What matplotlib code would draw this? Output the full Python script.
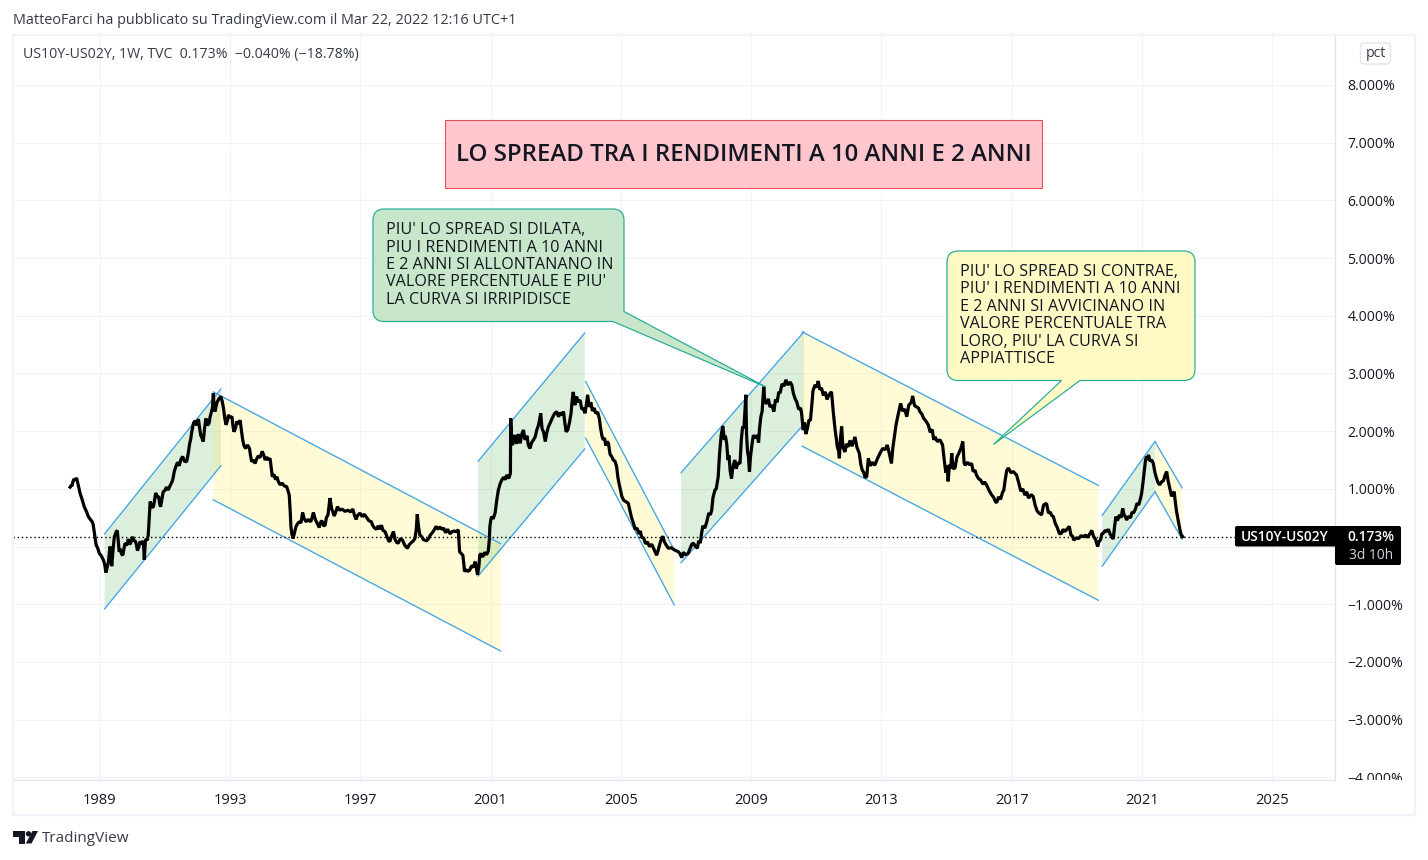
import matplotlib
matplotlib.use('Agg')
import matplotlib.pyplot as plt
from matplotlib.patches import PathPatch, Polygon, FancyBboxPatch, Rectangle, Circle
from matplotlib.path import Path
from matplotlib.transforms import Affine2D, Bbox

# US10Y-US02Y spread in percent, (date, value) by stretch of years
spread_1988 = [
    (1988.09, 1.03), (1988.12, 1.06), (1988.15, 1.05), (1988.18, 1.13), (1988.21, 1.17), (1988.25, 1.15), (1988.29, 1.19),
    (1988.34, 1.07), (1988.37, 1.00), (1988.40, 0.92), (1988.44, 0.85), (1988.48, 0.78), (1988.52, 0.70), (1988.55, 0.66),
    (1988.60, 0.60), (1988.65, 0.52), (1988.70, 0.48), (1988.77, 0.43), (1988.80, 0.38), (1988.84, 0.23), (1988.87, 0.12),
    (1988.89, 0.03), (1988.94, -0.03), (1988.99, -0.12), (1989.05, -0.16), (1989.11, -0.23), (1989.15, -0.30), (1989.19, -0.45),
    (1989.23, -0.36), (1989.27, -0.26), (1989.30, -0.08), (1989.32, 0.00), (1989.35, -0.22), (1989.37, -0.34), (1989.41, -0.05),
    (1989.45, 0.17), (1989.50, 0.25), (1989.54, 0.28), (1989.57, 0.10), (1989.60, -0.09), (1989.63, -0.04), (1989.67, -0.13),
    (1989.71, -0.15), (1989.75, -0.02), (1989.78, 0.06), (1989.83, 0.02), (1989.88, 0.13), (1989.92, 0.04), (1989.95, 0.06),
    (1989.98, 0.12), (1990.01, 0.17), (1990.05, 0.09), (1990.08, 0.11), (1990.12, 0.05), (1990.16, -0.07), (1990.20, -0.01),
    (1990.24, 0.09), (1990.29, 0.04), (1990.34, 0.10), (1990.37, -0.23), (1990.40, 0.08), (1990.42, 0.13), (1990.46, 0.11),
    (1990.49, 0.20), (1990.52, 0.50), (1990.55, 0.78), (1990.60, 0.68), (1990.65, 0.69), (1990.69, 0.82), (1990.72, 0.93),
    (1990.77, 0.86), (1990.81, 0.87), (1990.84, 0.74), (1990.87, 0.69), (1990.91, 0.82), (1990.95, 0.95), (1991.00, 0.97),
    (1991.05, 1.03), (1991.10, 0.98), (1991.16, 1.05), (1991.20, 1.10), (1991.24, 1.15), (1991.29, 1.30), (1991.34, 1.39),
    (1991.39, 1.46), (1991.44, 1.40), (1991.50, 1.52), (1991.55, 1.56), (1991.60, 1.48), (1991.67, 1.47), (1991.72, 1.62),
    (1991.76, 1.78), (1991.79, 1.85), (1991.83, 2.00), (1991.88, 2.14), (1991.93, 2.18), (1991.98, 2.10), (1992.03, 2.21),
    (1992.07, 2.05), (1992.10, 1.93), (1992.14, 1.88), (1992.18, 1.82), (1992.22, 2.05), (1992.26, 2.22), (1992.31, 2.10),
    (1992.36, 2.14), (1992.39, 2.25), (1992.42, 2.31), (1992.46, 2.40), (1992.49, 2.66), (1992.51, 2.42), (1992.54, 2.34),
    (1992.58, 2.45), (1992.61, 2.51), (1992.66, 2.56), (1992.72, 2.60), (1992.76, 2.52), (1992.80, 2.40), (1992.84, 2.22),
    (1992.88, 2.11), (1992.92, 2.18), (1992.95, 2.28), (1993.00, 2.24), (1993.06, 2.25), (1993.09, 2.10), (1993.12, 1.99),
    (1993.17, 2.05), (1993.21, 2.17), (1993.26, 2.12), (1993.31, 2.19), (1993.35, 2.02), (1993.39, 1.85), (1993.43, 1.75),
    (1993.48, 1.70), (1993.54, 1.76), (1993.60, 1.70), (1993.63, 1.58), (1993.67, 1.47), (1993.72, 1.50), (1993.77, 1.44),
    (1993.82, 1.52), (1993.87, 1.57), (1993.92, 1.54), (1993.99, 1.65), (1994.04, 1.58), (1994.08, 1.50), (1994.13, 1.55),
    (1994.18, 1.50), (1994.23, 1.53), (1994.27, 1.35), (1994.30, 1.21), (1994.35, 1.25), (1994.40, 1.16), (1994.44, 1.21),
    (1994.49, 1.12), (1994.54, 1.07), (1994.60, 1.10), (1994.67, 1.05), (1994.74, 1.04), (1994.78, 0.97), (1994.82, 0.89),
]
spread_1995 = [
    (1994.85, 0.60), (1994.87, 0.35), (1994.90, 0.22), (1994.94, 0.14), (1994.98, 0.24), (1995.03, 0.35), (1995.08, 0.40),
    (1995.13, 0.43), (1995.18, 0.41), (1995.23, 0.59), (1995.28, 0.48), (1995.34, 0.43), (1995.40, 0.47), (1995.48, 0.43),
    (1995.52, 0.50), (1995.56, 0.59), (1995.62, 0.47), (1995.68, 0.40), (1995.74, 0.33), (1995.78, 0.42), (1995.82, 0.45),
    (1995.87, 0.36), (1995.92, 0.37), (1995.96, 0.50), (1996.01, 0.55), (1996.07, 0.84), (1996.12, 0.66), (1996.16, 0.60),
    (1996.20, 0.53), (1996.25, 0.60), (1996.30, 0.69), (1996.37, 0.63), (1996.44, 0.65), (1996.53, 0.61), (1996.62, 0.63),
    (1996.70, 0.60), (1996.77, 0.65), (1996.82, 0.55), (1996.87, 0.47), (1996.92, 0.54), (1996.99, 0.58), (1997.06, 0.52),
    (1997.12, 0.56), (1997.19, 0.51), (1997.26, 0.45), (1997.34, 0.43), (1997.38, 0.37), (1997.44, 0.32), (1997.50, 0.30),
    (1997.55, 0.36), (1997.60, 0.30), (1997.65, 0.37), (1997.70, 0.28), (1997.76, 0.26), (1997.82, 0.17), (1997.87, 0.10),
    (1997.91, 0.09), (1997.96, 0.18), (1998.02, 0.26), (1998.07, 0.12), (1998.12, 0.07), (1998.17, 0.06), (1998.23, 0.14),
    (1998.30, 0.11), (1998.36, 0.03), (1998.40, 0.00), (1998.45, -0.03), (1998.50, 0.03), (1998.55, 0.06), (1998.63, 0.10),
    (1998.68, 0.14), (1998.72, 0.30), (1998.75, 0.56), (1998.79, 0.34), (1998.83, 0.20), (1998.89, 0.17), (1998.94, 0.12),
    (1999.04, 0.10), (1999.10, 0.14), (1999.15, 0.20), (1999.20, 0.23), (1999.26, 0.28), (1999.33, 0.35), (1999.38, 0.30),
    (1999.44, 0.34), (1999.50, 0.30), (1999.56, 0.32), (1999.62, 0.24), (1999.68, 0.30), (1999.76, 0.22), (1999.82, 0.26),
    (1999.88, 0.27), (1999.94, 0.26), (2000.01, 0.29), (2000.03, 0.10), (2000.05, -0.09), (2000.10, -0.12), (2000.15, -0.15),
    (2000.18, -0.30), (2000.20, -0.43), (2000.26, -0.40), (2000.30, -0.43), (2000.36, -0.41), (2000.42, -0.33), (2000.48, -0.36),
    (2000.53, -0.26), (2000.57, -0.38), (2000.60, -0.49), (2000.64, -0.35), (2000.67, -0.15), (2000.70, -0.12), (2000.76, -0.18),
    (2000.82, -0.10), (2000.88, -0.14), (2000.93, -0.08), (2000.96, 0.10), (2000.98, 0.35), (2001.01, 0.47), (2001.04, 0.52),
]
spread_2001 = [
    (2001.08, 0.48), (2001.14, 0.58), (2001.19, 0.80), (2001.24, 0.98), (2001.29, 1.08), (2001.34, 1.15), (2001.40, 1.20),
    (2001.45, 1.16), (2001.50, 1.24), (2001.56, 1.18), (2001.61, 1.27), (2001.62, 2.22), (2001.65, 1.80), (2001.68, 1.76),
    (2001.72, 1.90), (2001.75, 1.93), (2001.80, 1.78), (2001.85, 1.95), (2001.91, 1.79), (2001.96, 1.95), (2002.01, 2.02),
    (2002.06, 1.85), (2002.12, 1.92), (2002.16, 1.76), (2002.21, 1.70), (2002.26, 1.80), (2002.32, 1.85), (2002.37, 1.90),
    (2002.42, 2.02), (2002.48, 2.12), (2002.54, 2.31), (2002.58, 2.05), (2002.63, 1.98), (2002.68, 1.82), (2002.73, 1.98),
    (2002.78, 2.08), (2002.83, 2.14), (2002.89, 2.22), (2002.96, 2.30), (2003.03, 2.34), (2003.09, 2.25), (2003.14, 2.32),
    (2003.20, 2.28), (2003.24, 2.34), (2003.28, 2.15), (2003.32, 1.99), (2003.37, 2.02), (2003.42, 2.14), (2003.47, 2.30),
    (2003.51, 2.55), (2003.54, 2.68), (2003.59, 2.45), (2003.64, 2.60), (2003.70, 2.50), (2003.75, 2.54), (2003.80, 2.38),
    (2003.85, 2.40), (2003.90, 2.31), (2003.94, 2.45), (2003.98, 2.63), (2004.03, 2.42), (2004.08, 2.50), (2004.13, 2.35),
    (2004.18, 2.40), (2004.23, 2.31), (2004.29, 2.33), (2004.34, 2.22), (2004.38, 2.05), (2004.42, 1.92), (2004.46, 1.85),
    (2004.50, 1.88), (2004.54, 1.75), (2004.58, 1.82), (2004.62, 1.79), (2004.67, 1.60), (2004.72, 1.56), (2004.77, 1.50),
    (2004.82, 1.48), (2004.87, 1.39), (2004.91, 1.20), (2004.95, 1.08), (2004.99, 0.98), (2005.03, 0.87), (2005.09, 0.80),
    (2005.15, 0.78), (2005.23, 0.75), (2005.28, 0.62), (2005.33, 0.50), (2005.39, 0.40), (2005.44, 0.30), (2005.50, 0.32),
    (2005.55, 0.22), (2005.60, 0.27), (2005.64, 0.16), (2005.70, 0.15), (2005.76, 0.05), (2005.82, 0.08), (2005.88, 0.00),
    (2005.95, 0.04), (2006.02, -0.05), (2006.10, -0.15), (2006.14, -0.08), (2006.20, 0.05), (2006.24, 0.12), (2006.29, 0.18),
    (2006.34, 0.08), (2006.40, 0.02), (2006.46, -0.03), (2006.55, -0.02), (2006.65, -0.06), (2006.77, -0.09), (2006.82, -0.13),
    (2006.87, -0.19), (2006.92, -0.10), (2006.98, -0.14), (2007.07, -0.12), (2007.12, -0.04), (2007.18, 0.04), (2007.23, 0.06),
    (2007.28, 0.01), (2007.35, -0.03), (2007.39, 0.10), (2007.44, 0.06), (2007.48, 0.23), (2007.52, 0.36), (2007.58, 0.32),
    (2007.64, 0.43), (2007.70, 0.58), (2007.75, 0.55), (2007.79, 0.63), (2007.83, 0.85), (2007.89, 0.98), (2007.93, 1.00),
    (2007.99, 1.21), (2008.03, 1.60), (2008.08, 1.92), (2008.13, 2.09), (2008.18, 1.85), (2008.21, 1.92), (2008.25, 1.79),
    (2008.29, 1.50), (2008.32, 1.58), (2008.36, 1.30), (2008.40, 1.18), (2008.44, 1.38), (2008.50, 1.50), (2008.54, 1.35),
    (2008.60, 1.45), (2008.66, 1.44), (2008.70, 1.85), (2008.74, 2.08), (2008.78, 2.05), (2008.81, 2.35), (2008.84, 2.63),
    (2008.86, 1.95), (2008.89, 1.65), (2008.92, 1.55), (2008.95, 1.30), (2008.98, 1.55), (2009.03, 1.78), (2009.07, 1.93),
    (2009.13, 1.88), (2009.19, 1.93), (2009.23, 1.80), (2009.26, 2.05), (2009.30, 2.25), (2009.34, 2.35), (2009.39, 2.77),
    (2009.42, 2.50), (2009.48, 2.48), (2009.53, 2.56), (2009.58, 2.42), (2009.64, 2.45), (2009.70, 2.34), (2009.75, 2.55),
    (2009.80, 2.50), (2009.85, 2.68), (2009.89, 2.66), (2009.95, 2.82), (2010.01, 2.78), (2010.07, 2.89), (2010.13, 2.80),
    (2010.20, 2.85), (2010.25, 2.80), (2010.30, 2.65), (2010.36, 2.55), (2010.40, 2.51), (2010.46, 2.38), (2010.52, 2.40),
]
spread_2010 = [
    (2010.55, 2.31), (2010.60, 2.02), (2010.64, 2.15), (2010.68, 1.95), (2010.73, 2.05), (2010.78, 2.20), (2010.82, 2.18),
    (2010.86, 2.42), (2010.90, 2.70), (2010.96, 2.80), (2011.02, 2.76), (2011.06, 2.87), (2011.11, 2.72), (2011.16, 2.75),
    (2011.22, 2.62), (2011.28, 2.68), (2011.33, 2.55), (2011.37, 2.60), (2011.43, 2.66), (2011.47, 2.68), (2011.52, 2.35),
    (2011.55, 2.19), (2011.58, 2.02), (2011.61, 1.90), (2011.65, 1.72), (2011.69, 1.65), (2011.71, 1.53), (2011.74, 1.85),
    (2011.78, 2.08), (2011.82, 1.72), (2011.88, 1.64), (2011.93, 1.78), (2011.98, 1.73), (2012.04, 1.84), (2012.10, 1.74),
    (2012.19, 1.90), (2012.25, 1.72), (2012.32, 1.62), (2012.37, 1.42), (2012.41, 1.33), (2012.46, 1.28), (2012.50, 1.20),
    (2012.55, 1.21), (2012.60, 1.53), (2012.66, 1.40), (2012.72, 1.46), (2012.80, 1.41), (2012.86, 1.50), (2012.96, 1.62),
    (2013.04, 1.70), (2013.12, 1.68), (2013.18, 1.76), (2013.24, 1.62), (2013.31, 1.44), (2013.35, 1.70), (2013.41, 1.95),
    (2013.45, 2.11), (2013.52, 2.30), (2013.59, 2.48), (2013.65, 2.35), (2013.72, 2.38), (2013.78, 2.25), (2013.84, 2.45),
    (2013.92, 2.50), (2013.96, 2.61), (2014.02, 2.44), (2014.08, 2.42), (2014.14, 2.40), (2014.18, 2.34), (2014.24, 2.30),
    (2014.30, 2.22), (2014.36, 2.18), (2014.44, 2.11), (2014.50, 1.98), (2014.56, 2.03), (2014.61, 1.85), (2014.65, 1.90),
    (2014.72, 1.82), (2014.80, 1.85), (2014.88, 1.76), (2014.93, 1.50), (2014.98, 1.28), (2015.02, 1.40), (2015.05, 1.13),
    (2015.09, 1.42), (2015.13, 1.35), (2015.16, 1.62), (2015.20, 1.35), (2015.26, 1.36), (2015.32, 1.55), (2015.38, 1.62),
    (2015.44, 1.70), (2015.50, 1.82), (2015.54, 1.45), (2015.57, 1.41), (2015.64, 1.46), (2015.70, 1.42), (2015.77, 1.44),
    (2015.82, 1.30), (2015.88, 1.32), (2015.92, 1.24), (2015.98, 1.18), (2016.05, 1.15), (2016.12, 1.08), (2016.17, 1.12),
    (2016.23, 1.07), (2016.30, 0.98), (2016.38, 0.90), (2016.45, 0.85), (2016.50, 0.78), (2016.54, 0.76), (2016.60, 0.86),
    (2016.66, 0.82), (2016.72, 0.94), (2016.76, 0.98), (2016.80, 1.15), (2016.85, 1.32), (2016.90, 1.36), (2016.98, 1.28),
    (2017.05, 1.30), (2017.15, 1.24), (2017.22, 1.10), (2017.28, 0.96), (2017.34, 1.00), (2017.41, 0.89), (2017.46, 0.95),
    (2017.52, 0.84), (2017.60, 0.90), (2017.66, 0.87), (2017.72, 0.72), (2017.78, 0.62), (2017.84, 0.58), (2017.92, 0.55),
    (2017.98, 0.72), (2018.07, 0.75), (2018.13, 0.58), (2018.18, 0.60), (2018.23, 0.54), (2018.28, 0.52), (2018.34, 0.40),
    (2018.40, 0.33), (2018.47, 0.22), (2018.53, 0.23), (2018.58, 0.30), (2018.63, 0.26), (2018.70, 0.30), (2018.77, 0.35),
    (2018.82, 0.20), (2018.87, 0.18), (2018.91, 0.11), (2018.98, 0.15), (2019.06, 0.14), (2019.13, 0.19), (2019.20, 0.17),
    (2019.27, 0.20), (2019.33, 0.16), (2019.40, 0.22), (2019.46, 0.28), (2019.51, 0.18), (2019.58, 0.12), (2019.64, 0.00),
]
spread_2019 = [
    (2019.68, 0.08), (2019.73, 0.12), (2019.77, 0.22), (2019.81, 0.23), (2019.87, 0.28), (2019.92, 0.26), (2019.97, 0.30),
    (2020.02, 0.22), (2020.07, 0.18), (2020.12, 0.13), (2020.16, 0.35), (2020.20, 0.52), (2020.25, 0.45), (2020.31, 0.55),
    (2020.36, 0.50), (2020.41, 0.66), (2020.45, 0.55), (2020.49, 0.52), (2020.53, 0.46), (2020.58, 0.52), (2020.65, 0.50),
    (2020.70, 0.60), (2020.74, 0.58), (2020.80, 0.65), (2020.85, 0.75), (2020.90, 0.72), (2020.95, 0.82), (2020.99, 0.92),
    (2021.03, 1.10), (2021.07, 1.30), (2021.11, 1.50), (2021.14, 1.56), (2021.17, 1.50), (2021.20, 1.59), (2021.25, 1.48),
    (2021.30, 1.50), (2021.35, 1.44), (2021.40, 1.28), (2021.45, 1.18), (2021.50, 1.10), (2021.55, 1.07), (2021.60, 1.12),
    (2021.66, 1.14), (2021.72, 1.25), (2021.76, 1.30), (2021.80, 1.15), (2021.84, 1.05), (2021.88, 0.95), (2021.91, 0.87),
    (2021.95, 0.92), (2021.99, 0.95), (2022.02, 0.80), (2022.06, 0.62), (2022.10, 0.50), (2022.13, 0.40), (2022.17, 0.28),
    (2022.21, 0.20), (2022.25, 0.173),
]

# hand drawn parallel channels: start/end date and the two rails at each end
channel_kinds = ['up', 'down', 'up', 'down', 'up', 'down', 'up', 'down']
channel_x0 = [1989.15, 1992.49, 2000.62, 2003.92, 2006.85, 2010.57, 2019.78, 2021.40]
channel_x1 = [1992.72, 2001.31, 2003.89, 2006.64, 2010.62, 2019.66, 2021.40, 2022.23]
upper_y0 = [0.22, 2.68, 1.48, 2.86, 1.28, 3.72, 0.54, 1.82]
lower_y0 = [-1.08, 0.81, -0.51, 1.88, -0.28, 1.74, -0.34, 0.95]
upper_y1 = [2.73, 0.05, 3.70, -0.06, 3.72, 1.06, 1.82, 1.02]
lower_y1 = [1.40, -1.81, 1.69, -1.01, 2.12, -0.93, 0.95, 0.13]

price_ticks = [-4, -3, -2, -1, 0, 1, 2, 3, 4, 5, 6, 7, 8]
year_ticks = [1989, 1993, 1997, 2001, 2005, 2009, 2013, 2017, 2021, 2025]
last_value = 0.173

title_text = 'LO SPREAD TRA I RENDIMENTI A 10 ANNI E 2 ANNI'
green_note = ["PIU' LO SPREAD SI DILATA,", "PIU I RENDIMENTI A 10 ANNI", "E 2 ANNI SI ALLONTANANO IN",
              "VALORE PERCENTUALE E PIU'", "LA CURVA SI IRRIPIDISCE"]
yellow_note = ["PIU' LO SPREAD SI CONTRAE,", "PIU' I RENDIMENTI A 10 ANNI", "E 2 ANNI SI AVVICINANO IN",
               "VALORE PERCENTUALE TRA", "LORO, PIU' LA CURVA SI", "APPIATTISCE"]

W, H = 1428, 860
INK = '#131722'
GRID = '#f0f3fa'
BORDER = '#e0e3eb'
plt.rcParams['font.family'] = ['Open Sans', 'DejaVu Sans']

weekly = spread_1988 + spread_1995 + spread_2001 + spread_2010 + spread_2019
years = [p[0] for p in weekly]
spread = [p[1] for p in weekly]

fig = plt.figure(figsize=(W / 100, H / 100), dpi=100, facecolor='white')
# everything outside the axes is placed in pixels from the top left corner
px = Affine2D().scale(1, -1).translate(0, H)

L, R, T, B = 13, 1335, 35, 780
ax = fig.add_axes([L / W, 1 - B / H, (R - L) / W, (B - T) / H])
ax.set_xlim(1986.338, 2026.928)
ax.set_ylim(-4.045, 8.865)

ax.set_xticks(year_ticks)
ax.set_xticklabels([str(y) for y in year_ticks])
ax.set_yticks(price_ticks)
ax.yaxis.tick_right()
# the zero label sits behind the last value tag
ax.set_yticklabels(['' if v == 0 else f'{v:.3f}%'.replace('-', '\u2212') for v in price_ticks])
ax.tick_params(axis='both', length=0, labelsize=10.1, labelcolor=INK)
ax.tick_params(axis='x', pad=9, labelsize=10.6)
ax.tick_params(axis='y', pad=9)
for lab in ax.get_xticklabels():
    lab.set_fontweight('medium')
ax.grid(True, color=GRID, lw=0.8)
ax.set_axisbelow(True)
for name, sp in ax.spines.items():
    sp.set_color(BORDER)
    sp.set_linewidth(0.9)
ax.spines['top'].set_visible(False)
ax.spines['left'].set_visible(False)

# the lowest price label gets cut by the time scale
for lab in ax.get_yticklabels():
    lab.set_clip_box(Bbox([[0, H - B], [W, H]]))
    lab.set_clip_on(True)

# channels
fills = {'up': (76 / 255, 175 / 255, 80 / 255, 0.2), 'down': (255 / 255, 235 / 255, 59 / 255, 0.2)}
for kind, x0, x1, u0, l0, u1, l1 in zip(channel_kinds, channel_x0, channel_x1, upper_y0, lower_y0, upper_y1, lower_y1):
    ax.add_patch(Polygon([(x0, u0), (x1, u1), (x1, l1), (x0, l0)], closed=True, fc=fills[kind], ec='none', zorder=2))
    ax.plot([x0, x1], [u0, u1], color='#42a5e5', lw=0.95, zorder=3)
    ax.plot([x0, x1], [l0, l1], color='#42a5e5', lw=0.95, zorder=3)

ax.axhline(last_value, color='black', lw=1, ls=(0, (1, 2)), zorder=4)
ax.plot(years, spread, color='black', lw=2.3, solid_joinstyle='bevel', zorder=5)

# outer frame of the chart
fig.add_artist(Rectangle((13, 35), 1402, 780, transform=px, fc='none', ec=GRID, lw=1.6))


def green_bubble():
    x0, y0, x1, y1, r = 373, 209, 624, 321.5, 11
    verts = [(x0 + r, y0), (x1 - r, y0), (x1, y0), (x1, y0 + r), (x1, 311.5), (766, 387), (613, y1),
             (x0 + r, y1), (x0, y1), (x0, y1 - r), (x0, y0 + r), (x0, y0), (x0 + r, y0)]
    codes = [Path.MOVETO, Path.LINETO, Path.CURVE3, Path.CURVE3, Path.LINETO, Path.LINETO, Path.LINETO,
             Path.LINETO, Path.CURVE3, Path.CURVE3, Path.LINETO, Path.CURVE3, Path.CURVE3]
    return Path(verts, codes)


def yellow_bubble():
    x0, y0, x1, y1, r = 947, 251, 1195, 380.5, 11
    verts = [(x0 + r, y0), (x1 - r, y0), (x1, y0), (x1, y0 + r), (x1, y1 - r), (x1, y1), (x1 - r, y1),
             (1080, y1), (993.5, 444.5), (1061.5, y1),
             (x0 + r, y1), (x0, y1), (x0, y1 - r), (x0, y0 + r), (x0, y0), (x0 + r, y0)]
    codes = [Path.MOVETO, Path.LINETO, Path.CURVE3, Path.CURVE3, Path.LINETO, Path.CURVE3, Path.CURVE3,
             Path.LINETO, Path.LINETO, Path.LINETO,
             Path.LINETO, Path.CURVE3, Path.CURVE3, Path.LINETO, Path.CURVE3, Path.CURVE3]
    return Path(verts, codes)


fig.add_artist(PathPatch(green_bubble(), transform=px, fc='#c8e6c9', ec='#22ab94', lw=0.85, zorder=6))
fig.add_artist(PathPatch(yellow_bubble(), transform=px, fc='#fff9c4', ec='#22ab94', lw=0.85, zorder=6))

for i, line in enumerate(green_note):
    fig.text(386, 230 + i * 17.5, line, transform=px, fontsize=11.65, color=INK, va='center', ha='left', zorder=7)
for i, line in enumerate(yellow_note):
    fig.text(960, 272 + i * 17.45, line, transform=px, fontsize=11.65, color=INK, va='center', ha='left', zorder=7)

# title box
fig.add_artist(Rectangle((445, 120), 597, 67.5, transform=px, fc='#ffc6ce', ec='#e8505b', lw=0.8, zorder=6))
fig.text(743.5, 155, title_text, transform=px, fontsize=17.3, fontweight='semibold', color=INK,
         va='center', ha='center', zorder=7)

# header and legend line
fig.text(13, 20.5, 'MatteoFarci ha pubblicato su TradingView.com il Mar 22, 2022 12:16 UTC+1', transform=px,
         fontsize=10.4, color='#363a45', va='center')
fig.text(23, 54.5, 'US10Y-US02Y, 1W, TVC  0.173%  \u22120.040% (\u221218.78%)', transform=px,
         fontsize=10.15, color='#363a45', va='center', zorder=7)

# pct button
fig.add_artist(FancyBboxPatch((1360.5, 43), 30, 21, boxstyle='round,pad=0,rounding_size=4', transform=px,
                              fc='white', ec=BORDER, lw=0.9, zorder=6))
fig.text(1375.5, 53.5, 'pct', transform=px, fontsize=10.1, color='#363a45', va='center', ha='center', zorder=7)

# last value tag
fig.add_artist(FancyBboxPatch((1235, 526), 166, 20.5, boxstyle='round,pad=0,rounding_size=2', transform=px,
                              fc='black', ec='none', zorder=6))
fig.add_artist(FancyBboxPatch((1335, 540), 66, 25, boxstyle='round,pad=0,rounding_size=2', transform=px,
                              fc='black', ec='none', zorder=6))
fig.text(1241, 537, 'US10Y-US02Y', transform=px, fontsize=9.9, fontweight='semibold', color='white', va='center', zorder=7)
fig.text(1394, 537, f'{last_value:.3f}%', transform=px, fontsize=9.9, fontweight='semibold', color='white', va='center', ha='right', zorder=7)
fig.text(1393, 555.5, '3d 10h', transform=px, fontsize=9.9, color='#d1d4dc', va='center', ha='right', zorder=7)

# TradingView mark and name
logo = '#131722'
fig.add_artist(Polygon([(13, 831), (25, 831), (25, 843.5), (18.5, 843.5), (18.5, 836.5), (13, 836.5)], transform=px, fc=logo, ec='none'))
fig.add_artist(Circle((28.5, 833.8), 2.7, transform=px, fc=logo, ec='none'))
fig.add_artist(Polygon([(32.5, 831), (38, 831), (31.5, 843.5), (25.8, 843.5)], transform=px, fc=logo, ec='none'))
fig.text(42, 838.5, 'TradingView', transform=px, fontsize=11, color='#363a45', va='center')

fig.savefig('out.png', dpi=100)
